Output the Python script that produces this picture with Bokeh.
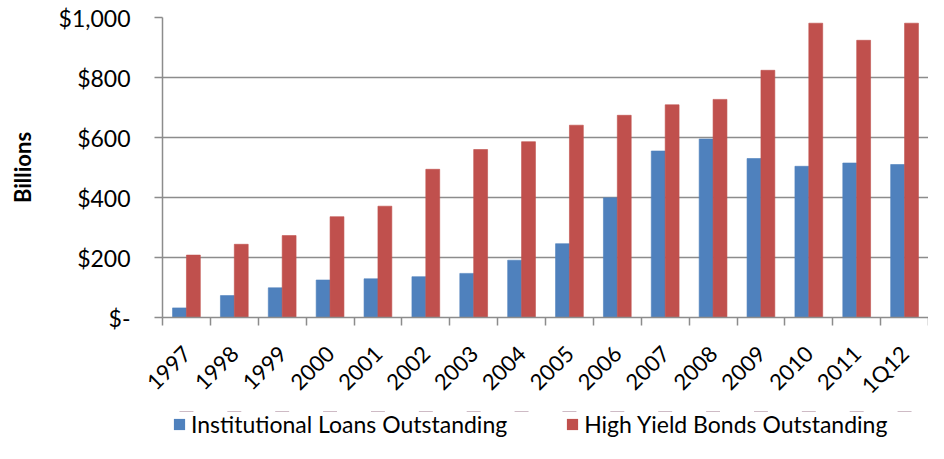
import math
from bokeh.plotting import figure
from bokeh.layouts import column
from bokeh.models import (ColumnDataSource, Range1d, FixedTicker, Legend, LegendItem)
from bokeh.transform import dodge
from bokeh.embed import file_html
from bokeh.resources import INLINE

categories = ["1997", "1998", "1999", "2000", "2001", "2002", "2003", "2004",
              "2005", "2006", "2007", "2008", "2009", "2010", "2011", "1Q12"]
loans = [32, 73, 99, 125, 129, 136, 147, 191, 246, 399, 555, 595, 530, 504, 515, 510]
bonds = [208, 244, 273, 336, 371, 494, 560, 586, 641, 674, 709, 727, 824, 981, 924, 981]
y_ticks = [0, 200, 400, 600, 800, 1000]
y_tick_labels = ["$-", "$200", "$400", "$600", "$800", "$1,000"]
series_names = ["Institutional Loans Outstanding", "High Yield Bonds Outstanding"]
colors = ["#4F81BD", "#C0504D"]

FONT = "Lato"
GRID = "#8c8c8c"

idx = list(range(len(categories)))
src = ColumnDataSource(dict(x=idx, loans=loans, bonds=bonds))

p = figure(width=928, height=411, output_backend="svg", toolbar_location=None,
           x_range=Range1d(-0.5, len(categories) - 0.5), y_range=Range1d(0, 1000),
           min_border_left=162, min_border_right=0, min_border_top=17, min_border_bottom=92)
p.outline_line_color = None
p.background_fill_color = "white"
p.border_fill_color = "white"

r1 = p.vbar(x=dodge("x", -0.145, range=p.x_range), top="loans", width=0.29, source=src,
            fill_color=colors[0], line_color=colors[0], line_alpha=0.6)
r2 = p.vbar(x=dodge("x", 0.145, range=p.x_range), top="bonds", width=0.29, source=src,
            fill_color=colors[1], line_color=colors[1], line_alpha=0.6)

# x axis
p.xaxis.ticker = FixedTicker(ticks=idx, minor_ticks=[i - 0.5 for i in idx] + [len(idx) - 0.5])
p.xaxis.major_label_overrides = {i: c for i, c in zip(idx, categories)}
p.xaxis.major_label_orientation = math.pi / 4
p.xaxis.major_tick_line_color = None
p.xaxis.major_tick_out = 8
p.xaxis.minor_tick_line_color = GRID
p.xaxis.minor_tick_line_width = 1.5
p.xaxis.minor_tick_out = 8
p.xaxis.minor_tick_in = 0
p.xaxis.axis_line_color = GRID
p.xaxis.axis_line_width = 1.5
p.xaxis.major_label_text_font = FONT
p.xaxis.major_label_text_font_size = "22px"
p.xaxis.major_label_text_color = "black"
p.xaxis.major_label_standoff = 24

# y axis
p.yaxis.ticker = FixedTicker(ticks=y_ticks)
p.yaxis.major_label_overrides = {t: l for t, l in zip(y_ticks, y_tick_labels)}
p.yaxis.major_tick_line_color = GRID
p.yaxis.major_tick_line_width = 1.5
p.yaxis.major_tick_out = 8
p.yaxis.major_tick_in = 0
p.yaxis.minor_tick_line_color = None
p.yaxis.axis_line_color = GRID
p.yaxis.axis_line_width = 1.5
p.yaxis.major_label_text_font = FONT
p.yaxis.major_label_text_font_size = "23px"
p.yaxis.major_label_text_color = "black"
p.yaxis.major_label_standoff = 24
p.yaxis.axis_label = "Billions"
p.yaxis.axis_label_text_font = FONT
p.yaxis.axis_label_text_font_style = "bold"
p.yaxis.axis_label_text_font_size = "22px"
p.yaxis.axis_label_text_color = "black"
p.yaxis.axis_label_standoff = 20

p.xgrid.grid_line_color = None
p.ygrid.grid_line_color = GRID
p.ygrid.grid_line_width = 1.5

# legend in a separate strip below the chart (frames are aligned by the column)
lg = figure(width=928, height=32, output_backend="svg", toolbar_location=None,
            x_axis_type=None, y_axis_type=None, x_range=Range1d(-0.5, len(categories) - 0.5),
            y_range=Range1d(-2000, -1000),
            min_border_left=162, min_border_right=0, min_border_top=0, min_border_bottom=0)
lg.outline_line_color = None
lg.xgrid.grid_line_color = None
lg.ygrid.grid_line_color = None
d1 = lg.vbar(x="x", top="loans", width=0.29, source=src, fill_color=colors[0], line_color=None)
d2 = lg.vbar(x="x", top="bonds", width=0.29, source=src, fill_color=colors[1], line_color=None)

legend = Legend(items=[LegendItem(label=series_names[0], renderers=[d1]),
                       LegendItem(label=series_names[1], renderers=[d2])],
                orientation="horizontal", location=(10, 5))
legend.label_text_font = FONT
legend.label_text_font_size = "23px"
legend.label_text_color = "black"
legend.glyph_width = 14
legend.glyph_height = 14
legend.label_standoff = 5
legend.spacing = 58
legend.padding = 0
legend.margin = 0
legend.border_line_color = None
legend.background_fill_alpha = 0
legend.label_height = 24
lg.add_layout(legend)

open("out.html", "w").write(file_html(column(p, lg, spacing=0), INLINE))
